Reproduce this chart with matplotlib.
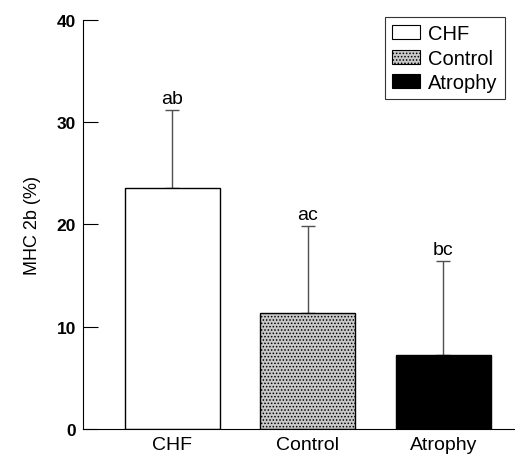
import matplotlib
matplotlib.use("Agg")
import matplotlib.pyplot as plt
from matplotlib.patches import Patch

categories = ["CHF", "Control", "Atrophy"]
means = [23.6, 11.3, 7.2]
sd_upper = [7.6, 8.5, 9.2]
letters = ["ab", "ac", "bc"]
yticks = [0, 10, 20, 30, 40]

plt.rcParams['font.family'] = ['Liberation Sans', 'DejaVu Sans']
plt.rcParams['hatch.color'] = '#8c8c8c'
plt.rcParams['hatch.linewidth'] = 0.7

fig = plt.figure(figsize=(5.15, 4.56), dpi=100)
ax = fig.add_axes([0.161, 0.057, 0.839, 0.8976])

faces = ['white', '#c9c9c9', 'black']
hatches = [None, '.....', None]
x = list(range(len(categories)))
for i in x:
    ax.bar(i, means[i], width=0.70, color=faces[i], edgecolor='black',
           linewidth=1.0, hatch=hatches[i], zorder=2)
    ax.errorbar(i, means[i], yerr=[[0], [sd_upper[i]]], fmt='none',
                ecolor='#505050', elinewidth=1.0, capsize=4.7, capthick=1.0, zorder=1)
    ax.text(i, means[i] + sd_upper[i] + 0.3, letters[i], ha='center', va='bottom',
            fontsize=14)

ax.set_xlim(-0.66, 2.53)
ax.set_ylim(0, 40)
ax.set_yticks(yticks)
ax.set_yticklabels([str(t) for t in yticks], fontweight='bold', fontsize=12.5)
ax.set_xticks(x)
ax.set_xticklabels(categories, fontsize=14)
ax.tick_params(axis='y', direction='in', length=11, width=0.8, pad=5)
ax.tick_params(axis='x', length=0, pad=5)
ax.spines['top'].set_visible(False)
ax.spines['right'].set_visible(False)
ax.spines['left'].set_linewidth(0.8)
ax.spines['bottom'].set_linewidth(0.8)
ax.set_ylabel("MHC 2b (%)", fontsize=13, labelpad=11)

handles = [Patch(facecolor=faces[i], edgecolor='black', linewidth=0.8, hatch=hatches[i],
                 label=categories[i]) for i in x]
leg = ax.legend(handles=handles, loc='upper left', bbox_to_anchor=(0.699, 1.0066),
                fontsize=14.5, frameon=True, fancybox=False, edgecolor='black',
                handlelength=1.4, handleheight=0.7, handletextpad=0.4,
                labelspacing=0.28, borderpad=0.35, borderaxespad=0.0)
leg.get_frame().set_linewidth(0.8)

fig.savefig("out.png", dpi=100)
